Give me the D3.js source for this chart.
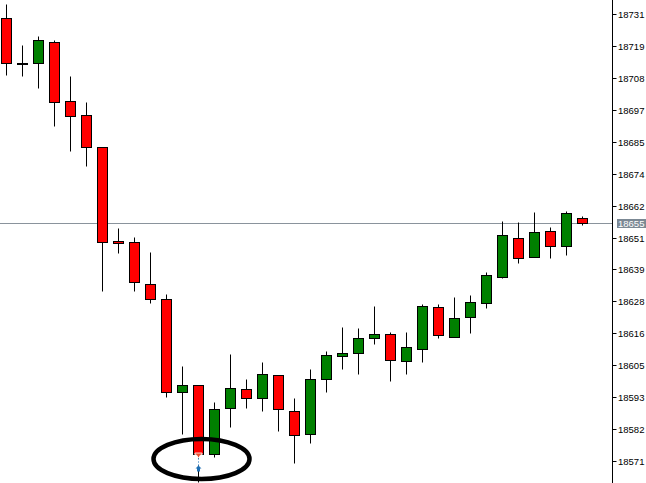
<!DOCTYPE html>
<html>
<head>
<meta charset="utf-8">
<script src="https://cdn.jsdelivr.net/npm/d3@7"></script>
<style>
  html, body { margin: 0; padding: 0; background: #fff; }
  svg { display: block; }
</style>
</head>
<body>
<div id="chart"></div>
<script>
'use strict';

// candle data
var candles = d3.range(37);
var opens  = [18729.6, 18713.5, 18713.5, 18721.0, 18699.9, 18694.8, 18683.4, 18649.7, 18649.4, 18634.4,
              18629.0, 18595.7, 18598.2, 18573.5, 18590.0, 18596.8, 18593.6, 18601.8, 18588.9, 18580.7,
              18600.4, 18608.6, 18609.7, 18615.0, 18616.5, 18606.8, 18611.1, 18626.1, 18615.4, 18622.5,
              18627.6, 18636.9, 18650.8, 18644.0, 18653.3, 18648.0, 18658.0];
var highs  = [18734.6, 18719.9, 18723.1, 18721.7, 18708.8, 18699.5, 18683.4, 18654.4, 18651.2, 18645.8,
              18630.8, 18605.0, 18598.2, 18592.1, 18609.3, 18600.4, 18606.4, 18601.8, 18593.6, 18603.9,
              18610.4, 18619.0, 18618.6, 18626.5, 18617.2, 18617.2, 18627.2, 18627.2, 18629.7, 18630.4,
              18638.7, 18656.9, 18656.5, 18660.1, 18654.8, 18660.5, 18658.7];
var lows   = [18709.2, 18708.8, 18704.5, 18690.9, 18682.0, 18676.6, 18631.9, 18645.5, 18631.9, 18627.6,
              18593.9, 18580.7, 18563.5, 18572.4, 18583.2, 18590.0, 18588.9, 18581.7, 18570.3, 18577.4,
              18595.7, 18603.9, 18602.1, 18612.9, 18599.6, 18602.1, 18606.4, 18615.0, 18615.4, 18616.8,
              18625.8, 18636.5, 18641.9, 18644.0, 18643.7, 18644.7, 18655.5];
var closes = [18713.5, 18713.5, 18721.7, 18699.5, 18694.5, 18683.4, 18649.4, 18649.0, 18635.1, 18629.0,
              18595.7, 18598.2, 18573.5, 18589.6, 18597.1, 18593.6, 18602.1, 18589.6, 18580.3, 18600.4,
              18608.9, 18609.7, 18615.0, 18616.5, 18607.2, 18611.8, 18626.5, 18616.1, 18622.2, 18627.9,
              18637.6, 18651.9, 18643.7, 18653.0, 18648.0, 18659.8, 18656.2];

// price axis
var tickValues = [18731.0, 18719.6, 18708.1, 18696.7, 18685.3, 18673.9, 18662.4, 18651.0,
                  18639.6, 18628.1, 18616.7, 18605.3, 18593.9, 18582.4, 18571.0];
var tickLabels = ["18731", "18719", "18708", "18697", "18685", "18674", "18662", "18651",
                  "18639", "18628", "18616", "18605", "18593", "18582", "18571"];
var lastPrice = 18656.2, lastPriceLabel = "18655";

// annotation: circled low with trade arrows
var markIndex = 12, markPrice = 18571.7;
var sellArrow = 18573.0, buyArrow = 18568.5;

var W = 646, H = 483, axisX = 612;

var x = d3.scaleBand().domain(candles).range([-2, 590]);
var y = d3.scaleLinear().domain([18571.0, 18731.0]).range([461, 14]);

function cx(i) { return Math.round(x(i) + x.bandwidth() / 2) + 0.5; }
function py(v) { return Math.round(y(v)) + 0.5; }

var svg = d3.select("#chart").append("svg")
    .attr("width", W).attr("height", H)
    .style("font-family", "'Liberation Sans', Arial, sans-serif");

var plot = svg.append("g");

// current price line
plot.append("line")
    .attr("x1", 0).attr("x2", axisX)
    .attr("y1", py(lastPrice)).attr("y2", py(lastPrice))
    .attr("stroke", "#8a939c").attr("stroke-width", 1);

// wicks
plot.selectAll(".wick").data(candles).enter().append("line")
    .attr("class", "wick")
    .attr("x1", cx).attr("x2", cx)
    .attr("y1", function(i) { return py(highs[i]); })
    .attr("y2", function(i) { return py(lows[i]); })
    .attr("stroke", "#000").attr("stroke-width", 1);

// bodies
plot.selectAll(".body").data(candles).enter().append("rect")
    .attr("class", "body")
    .attr("x", function(i) { return cx(i) - 5; })
    .attr("width", 10)
    .attr("y", function(i) { return py(Math.max(opens[i], closes[i])); })
    .attr("height", function(i) {
        return Math.max(1, py(Math.min(opens[i], closes[i])) - py(Math.max(opens[i], closes[i])));
    })
    .attr("fill", function(i) {
        if (Math.abs(closes[i] - opens[i]) < 0.3) return "#000";
        return closes[i] > opens[i] ? "#008000" : "#ff0000";
    })
    .attr("stroke", "#000").attr("stroke-width", 1);

// trade arrows on the low candle
var ax = cx(markIndex);
plot.append("line")
    .attr("x1", ax).attr("x2", ax)
    .attr("y1", py(sellArrow) + 3).attr("y2", py(buyArrow) - 3)
    .attr("stroke", "#fff").attr("stroke-width", 1);
plot.append("line")
    .attr("x1", ax).attr("x2", ax)
    .attr("y1", py(sellArrow) + 3).attr("y2", py(buyArrow) - 3)
    .attr("stroke", "#1f6fb4").attr("stroke-width", 1).attr("stroke-dasharray", "1,2");
plot.append("path")
    .attr("d", "M" + (ax - 3.5) + "," + (py(sellArrow) - 2.5) + "h7v2h-1.5l-2,3l-2,-3h-1.5z")
    .attr("fill", "#e8502f").attr("stroke", "#fff").attr("stroke-width", 0.8);
plot.append("path")
    .attr("d", "M" + ax + "," + (py(buyArrow) - 3) + "l3,3h-1.5v3h-3v-3h-1.5z")
    .attr("fill", "#1f6fb4");

// ellipse round the low
plot.append("ellipse")
    .attr("cx", cx(markIndex) + 3).attr("cy", y(markPrice))
    .attr("rx", 48).attr("ry", 20)
    .attr("fill", "none").attr("stroke", "#000").attr("stroke-width", 4.5);

// price axis on the right
var axisG = svg.append("g").attr("transform", "translate(" + (axisX + 0.5) + ",0)");
axisG.append("rect").attr("x", 0).attr("y", 0).attr("width", W - axisX).attr("height", H).attr("fill", "#fff");
axisG.append("line").attr("x1", 0).attr("x2", 0).attr("y1", 0).attr("y2", H)
    .attr("stroke", "#000").attr("stroke-width", 1);

var ticks = axisG.selectAll(".tick").data(tickValues).enter().append("g")
    .attr("class", "tick")
    .attr("transform", function(v) { return "translate(0," + py(v) + ")"; });
ticks.append("line").attr("x1", 0).attr("x2", 4).attr("stroke", "#000");
ticks.append("text")
    .attr("x", 5.5).attr("dy", "0.35em")
    .attr("font-size", "9.5px").attr("fill", "#000")
    .text(function(v, i) { return tickLabels[i]; });

// current price badge
var badge = axisG.append("g").attr("transform", "translate(0," + py(lastPrice) + ")");
badge.append("rect")
    .attr("x", 4.5).attr("y", -4.5).attr("width", W - axisX - 5).attr("height", 9)
    .attr("fill", "#7b8894");
badge.append("text")
    .attr("x", 5.5).attr("dy", "0.35em")
    .attr("font-size", "9.5px").attr("fill", "#fff")
    .text(lastPriceLabel);
</script>
</body>
</html>
